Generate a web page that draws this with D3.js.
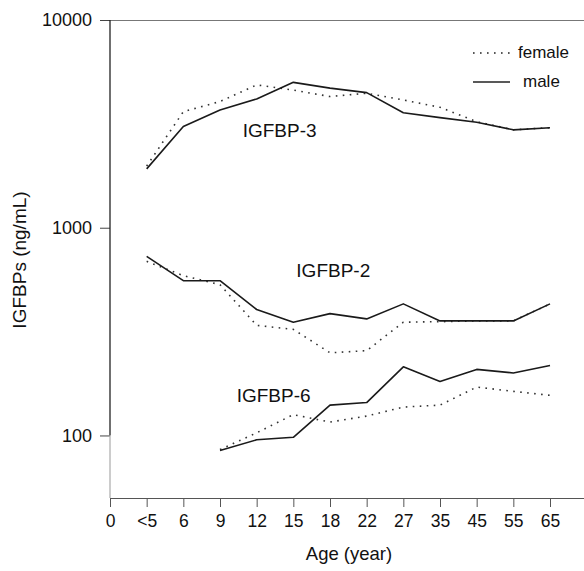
<!DOCTYPE html>
<html>
<head>
<meta charset="utf-8">
<script src="https://cdn.jsdelivr.net/npm/d3@7"></script>
<style>
  html, body { margin: 0; padding: 0; background: #fff; }
  svg { display: block; font-family: "Liberation Sans", Arial, Helvetica, sans-serif; }
</style>
</head>
<body>
<svg id="chart" width="584" height="571"></svg>
<script>
// ---- data ----
const ages = ["0", "<5", "6", "9", "12", "15", "18", "22", "27", "35", "45", "55", "65"];
const yTicks = [100, 1000, 10000];

const igfbp3Male   = [null, 1920, 3070, 3690, 4170, 5010, 4700, 4470, 3580, 3390, 3220, 2960, 3030];
const igfbp3Female = [null, 1980, 3620, 4050, 4870, 4600, 4280, 4440, 4120, 3800, 3240, 2960, 3030];
const igfbp2Male   = [null, 728, 556, 556, 404, 351, 386, 364, 430, 356, 356, 356, 430];
const igfbp2Female = [null, 689, 588, 532, 339, 324, 250, 256, 351, 353, 356, 356, 430];
const igfbp6Male   = [null, null, null, 84.7, 95.3, 98, 140, 144, 214, 182, 208, 200, 217];
const igfbp6Female = [null, null, null, 85.5, 103, 126, 116, 124, 137, 140, 171, 163, 156];

const seriesLabels = [
  { text: "IGFBP-3", age: "12", dx: -14, value: 2900 },
  { text: "IGFBP-2", age: "15", dx: 3, value: 610 },
  { text: "IGFBP-6", age: "12", dx: -20, value: 154 }
];

// ---- layout ----
const svg = d3.select("#chart");
const mLeft = 110, mTop = 20, mBottom = 498, mRight = 584;

const x = d3.scalePoint().domain(ages).range([110, 550]);
const y = d3.scaleLog().domain([50, 10000]).range([mBottom, mTop]);

const font = "Liberation Sans, Arial, sans-serif";

// frame lines
svg.append("line").attr("x1", 100).attr("x2", mRight).attr("y1", mTop + 0.5).attr("y2", mTop + 0.5)
  .attr("stroke", "#777").attr("stroke-width", 1.2);

// y axis
const yAxis = svg.append("g").attr("transform", `translate(${mLeft},0)`)
  .call(d3.axisLeft(y).tickValues(yTicks).tickFormat(d3.format("d")).tickSize(10).tickPadding(8));
yAxis.select(".domain").remove();
yAxis.selectAll(".tick line").attr("stroke", "#444").attr("stroke-width", 1);
yAxis.selectAll(".tick text").attr("font-size", 18).attr("fill", "#111").attr("font-family", font);
svg.append("line").attr("x1", mLeft).attr("x2", mLeft).attr("y1", mTop).attr("y2", y(100))
  .attr("stroke", "#222").attr("stroke-width", 1.3);
svg.append("line").attr("x1", mLeft).attr("x2", mLeft).attr("y1", y(100)).attr("y2", mBottom)
  .attr("stroke", "#aaa").attr("stroke-width", 1.2);

// x axis
const xAxis = svg.append("g").attr("transform", `translate(0,${mBottom})`)
  .call(d3.axisBottom(x).tickSize(9).tickPadding(8));
xAxis.select(".domain").remove();
xAxis.selectAll(".tick line").attr("stroke", "#555").attr("stroke-width", 1);
xAxis.selectAll(".tick text").attr("font-size", 17.5).attr("fill", "#111").attr("font-family", font);
svg.append("line").attr("x1", mLeft).attr("x2", mRight).attr("y1", mBottom + 0.5).attr("y2", mBottom + 0.5)
  .attr("stroke", "#555").attr("stroke-width", 1.2);

// axis titles
svg.append("text").attr("x", 349).attr("y", 560).attr("text-anchor", "middle")
  .attr("font-size", 18.5).attr("fill", "#111").text("Age (year)");
svg.append("text").attr("transform", "translate(26,260) rotate(-90)").attr("text-anchor", "middle")
  .attr("font-size", 19).attr("fill", "#111").text("IGFBPs (ng/mL)");

// lines
const line = d3.line()
  .defined(d => d.v != null)
  .x(d => x(d.a))
  .y(d => y(d.v));

function draw(values, dotted) {
  const data = ages.map((a, i) => ({ a, v: values[i] }));
  svg.append("path").datum(data).attr("d", line)
    .attr("fill", "none")
    .attr("stroke", dotted ? "#333" : "#1a1a1a")
    .attr("stroke-width", 1.6)
    .attr("stroke-dasharray", dotted ? "1.6,5.4" : null)
    .attr("stroke-linejoin", "round");
}
draw(igfbp3Female, true);
draw(igfbp2Female, true);
draw(igfbp6Female, true);
draw(igfbp3Male, false);
draw(igfbp2Male, false);
draw(igfbp6Male, false);

// series labels
seriesLabels.forEach(l => {
  svg.append("text").attr("x", x(l.age) + l.dx).attr("y", y(l.value))
    .attr("dominant-baseline", "middle")
    .attr("font-size", 19).attr("fill", "#111").text(l.text);
});

// legend
const legend = [
  { label: "female", dotted: true, y: 53, tx: 518 },
  { label: "male", dotted: false, y: 82, tx: 523 }
];
legend.forEach(d => {
  svg.append("line").attr("x1", 473).attr("x2", 510).attr("y1", d.y).attr("y2", d.y)
    .attr("stroke", "#222").attr("stroke-width", 1.6)
    .attr("stroke-dasharray", d.dotted ? "1.6,5.4" : null);
  svg.append("text").attr("x", d.tx).attr("y", d.y + 1).attr("dominant-baseline", "middle")
    .attr("font-size", 17).attr("fill", "#111").text(d.label);
});
</script>
</body>
</html>
